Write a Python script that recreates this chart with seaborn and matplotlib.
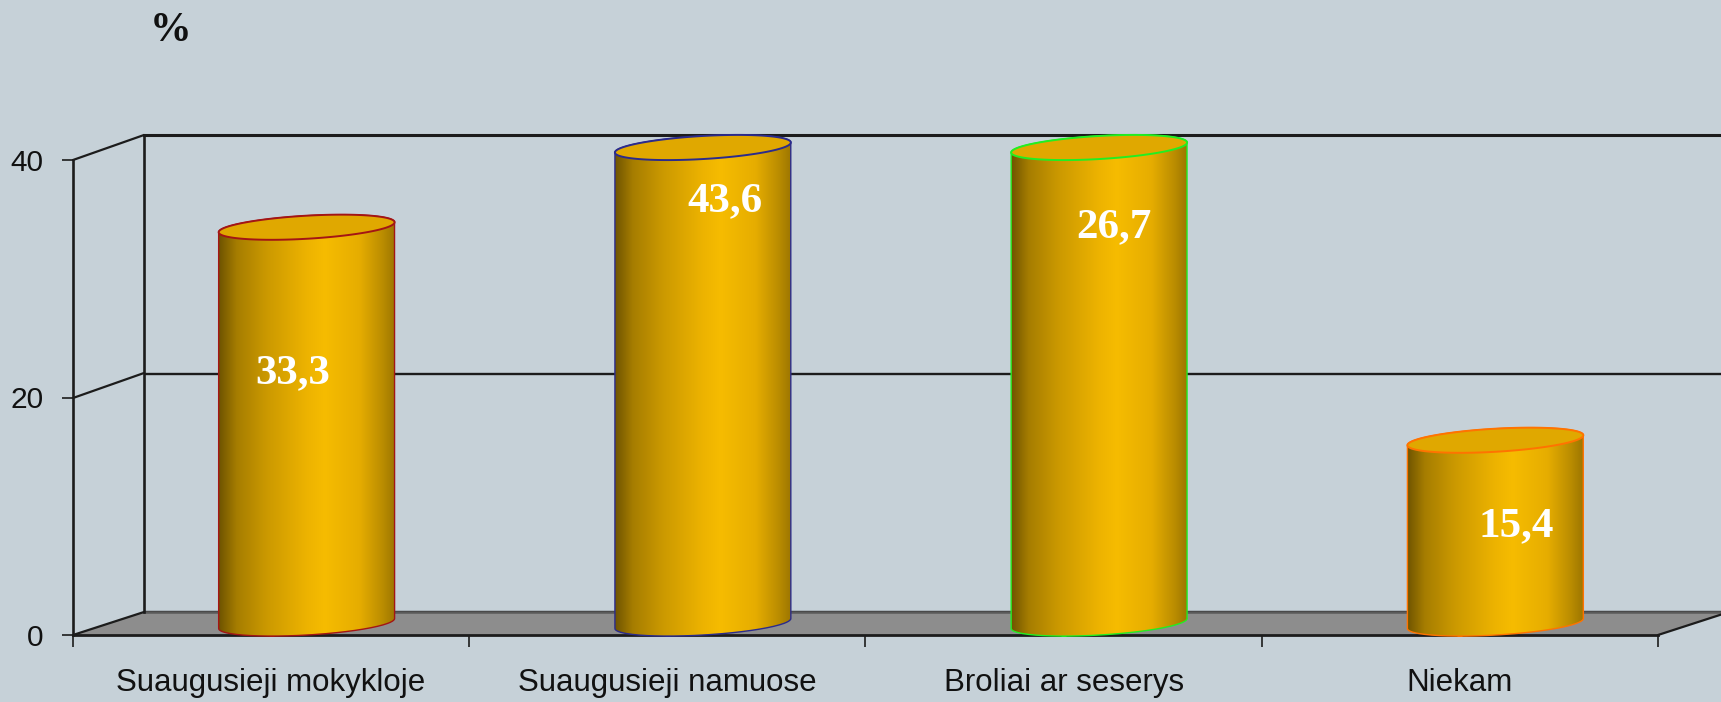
from matplotlib import pyplot as plt
from matplotlib.colors import LinearSegmentedColormap
from matplotlib.lines import Line2D
from matplotlib.patches import PathPatch, Polygon
from matplotlib.path import Path
import numpy as np
import seaborn as sns

categories = ["Suaugusieji mokykloje", "Suaugusieji namuose", "Broliai ar seserys", "Niekam"]
value_labels = ["33,3", "43,6", "26,7", "15,4"]
# bar 2 is cut at the axis top, bar 3 is drawn far taller than its label says
drawn_heights = [33.3, 40, 40, 15.4]
y_ticks = [0, 20, 40]
edge_colors = ["#a31515", "#2b2b8c", "#22ee22", "#ff7300"]

# where the labels sit: x shift from bar centre (categories), y in axis units
label_dx = [-0.035, 0.055, 0.037, 0.052]
label_y = [21.0, 35.5, 33.3, 8.2]

W, H = 1721, 702
BG = "#c6d1d8"
INK = "#1c1c1c"


def box(left, bottom, right, top):
    return [left / W, 1 - bottom / H, (right - left) / W, (bottom - top) / H]


def fig_xy(points):
    return [(x / W, 1 - y / H) for x, y in points]


sns.set_style("white")
f = plt.figure(figsize=(W / 100, H / 100), dpi=100, facecolor=BG)

# floor, under all the axes
f.add_artist(Polygon(fig_xy([(73, 635), (1658, 635), (1729, 612), (144, 612)]),
                     closed=True, transform=f.transFigure, facecolor="#8d8d8d", edgecolor="none", zorder=-1))

# back wall
ax_back = f.add_axes(box(144, 612, 1729, 135), facecolor="none")
ax_back.set_xlim(-0.5, 3.5)
ax_back.set_ylim(0, 40)
ax_back.set_yticks(y_ticks)
ax_back.set_xticks([])
ax_back.tick_params(left=False, labelleft=False)
ax_back.grid(axis="y", color=INK, lw=1.7)
ax_back.spines[["right", "bottom"]].set_visible(False)
ax_back.spines["top"].set_linewidth(2.2)
ax_back.spines["top"].set_color(INK)
ax_back.spines["left"].set_linewidth(1.9)
ax_back.spines["left"].set_color(INK)
ax_back.plot([0, 1], [0, 0], transform=ax_back.transAxes, color="#5a5a5a", lw=1.8, clip_on=False)

# front plane carries the real ticks
ax = f.add_axes(box(73, 635, 1658, 160), facecolor="none")
ax.set_xlim(-0.5, 3.5)
ax.set_ylim(0, 40)
ax.set_yticks(y_ticks)
ax.set_yticklabels([str(t) for t in y_ticks], fontname="Liberation Sans", fontsize=21.5, color="#111111")
ax.set_xticks(np.arange(-0.5, 4))
ax.set_xticklabels([])
ax.set_xticks(range(4), minor=True)
ax.set_xticklabels(categories, minor=True, fontname="Liberation Sans", fontsize=22.5, color="#111111")
ax.tick_params(axis="x", which="major", bottom=True, length=8.5, width=1.2, color=INK, direction="out")
ax.tick_params(axis="x", which="minor", bottom=False, length=0, pad=24)
ax.tick_params(axis="y", left=True, length=8, width=1.2, color=INK, pad=13)
ax.spines[["top", "right"]].set_visible(False)
ax.spines["left"].set_linewidth(1.9)
ax.spines["left"].set_color(INK)
ax.spines["bottom"].set_linewidth(2)
ax.spines["bottom"].set_color(INK)

# depth lines joining front and back
for px_front, px_back in [((73, 160), (144, 135)), ((73, 398), (144, 373)), ((73, 635), (144, 612)), ((1658, 635), (1729, 612))]:
    (x0, y0), (x1, y1) = fig_xy([px_front, px_back])
    f.add_artist(Line2D([x0, x1], [y0, y1], transform=f.transFigure, color=INK, lw=1.6))

# bars live half way between front and back
ax_bar = f.add_axes(box(108.5, 623.5, 1693.5, 147.5), facecolor="none")
sns.barplot(x=categories, y=drawn_heights, width=0.444, color="#f5bb00", ax=ax_bar)
ax_bar.set_xlim(-0.5, 3.5)
ax_bar.set_ylim(0, 40)
ax_bar.axis("off")

shade = LinearSegmentedColormap.from_list("cyl", [
    (0.0, "#6f5400"), (0.1, "#a67d00"), (0.27, "#cb9900"), (0.5, "#edb300"),
    (0.6, "#f6bc00"), (0.8, "#e6ad00"), (0.93, "#bb8d00"), (1.0, "#9e7700")])
ramp = np.linspace(0, 1, 256).reshape(1, -1)

tilt = 0.42
minor = 0.97
t_front = np.linspace(np.pi, 2 * np.pi, 80)
t_back = np.linspace(0, np.pi, 80)

for i, bar in enumerate(ax_bar.patches):
    x0, w, h = bar.get_x(), bar.get_width(), bar.get_height()
    cx = x0 + w / 2
    bar.set_visible(False)

    low = np.column_stack([cx + w / 2 * np.cos(t_front), tilt * np.cos(t_front) + minor * np.sin(t_front)])
    high = np.column_stack([cx + w / 2 * np.cos(t_back), h + tilt * np.cos(t_back) + minor * np.sin(t_back)])
    outline = np.vstack([low, high, low[:1]])
    body = PathPatch(Path(outline), facecolor="none", edgecolor=edge_colors[i], lw=1.0,
                     clip_on=False, zorder=3)
    ax_bar.add_patch(body)
    img = ax_bar.imshow(ramp, extent=(x0, x0 + w, -2, h + 2), aspect="auto", cmap=shade, zorder=2)
    img.set_clip_path(body)
    img.set_clip_box(f.bbox)

    rim = np.column_stack([cx + w / 2 * np.cos(np.r_[t_back, t_front]),
                           h + tilt * np.cos(np.r_[t_back, t_front]) + minor * np.sin(np.r_[t_back, t_front])])
    ax_bar.add_patch(Polygon(rim, closed=True, facecolor="#e0a800", edgecolor=edge_colors[i], lw=1.4,
                             clip_on=False, zorder=4))

    ax_bar.text(cx + label_dx[i], label_y[i], value_labels[i], color="white", fontname="Liberation Serif",
                fontweight="bold", fontsize=31, ha="center", va="center", zorder=5)

    # small coloured nick where each bar touches the front axis
    ax.plot([i - 0.006, i + 0.006], [0, 0], color=edge_colors[i], lw=2, clip_on=False, zorder=6,
            solid_capstyle="butt")

ax_bar.set_xlim(-0.5, 3.5)
ax_bar.set_ylim(0, 40)

f.text(171 / W, 1 - 31 / H, "%", fontname="Liberation Serif", fontweight="bold", fontsize=30,
       ha="center", va="center", color="#111111")

f.savefig("out.png", dpi=100, facecolor=BG)
